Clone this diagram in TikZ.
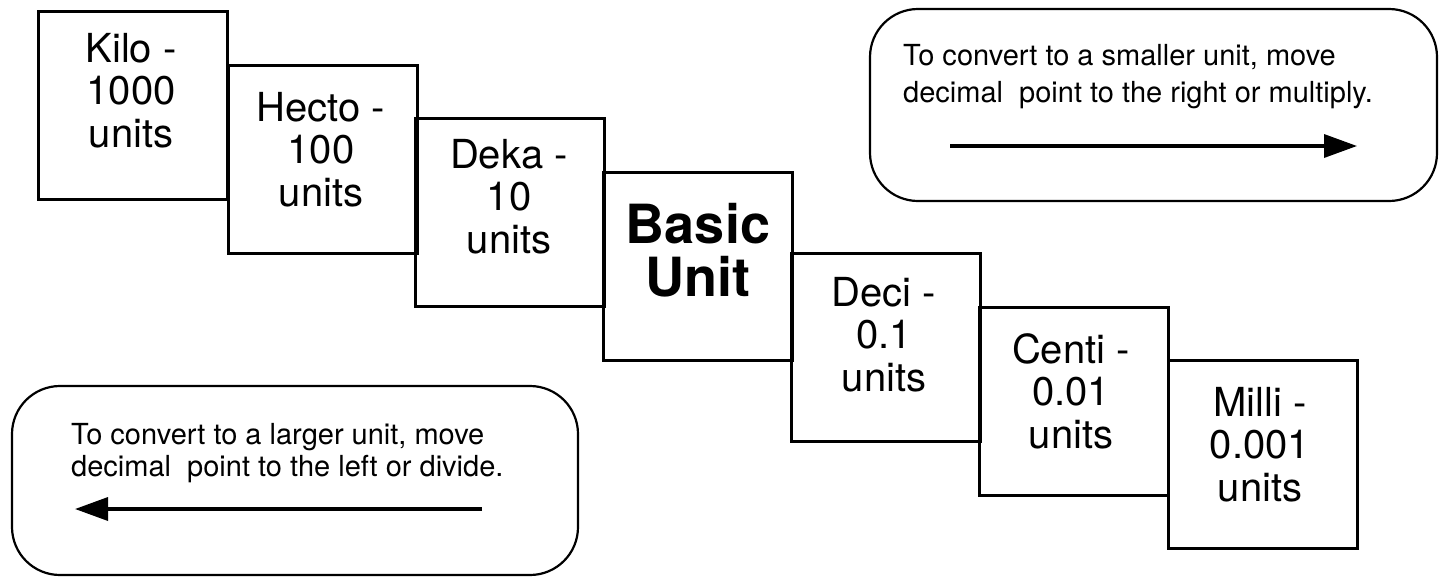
\documentclass[tikz,border=0pt]{standalone}
\usepackage{fontspec}
\setmainfont{TeX Gyre Heros}
\usetikzlibrary{arrows.meta}
\tikzset{
  unitbox/.style={draw, line width=3pt, minimum width=189pt, minimum height=188pt, inner sep=0pt, outer sep=0pt},
  unittext/.style={anchor=north, inner sep=0pt, align=center, font=\fontsize{40}{42.5}\selectfont},
  basictext/.style={anchor=north, inner sep=0pt, align=center, font=\bfseries\fontsize{54}{53}\selectfont},
  notebox/.style={draw, line width=2.2pt, rounded corners=48pt, inner sep=0pt, outer sep=0pt},
  notetext/.style={anchor=north west, inner sep=0pt, align=left},
  convarrow/.style={line width=3.5pt, -{Triangle[length=33pt, width=23pt]}}
}
\begin{document}
\begin{tikzpicture}[x=1pt, y=-1pt]
\useasboundingbox (0,0) rectangle (1447,576);
% staircase of unit boxes
\node[unitbox] (kilo)  at (133,105.5) {};
\node[unitbox] (hecto) at (322.5,159.5) {};
\node[unitbox] (deka)  at (510,212.5) {};
\node[unitbox] (basic) at (698,266) {};
\node[unitbox] (deci)  at (886,347) {};
\node[unitbox] (centi) at (1074,401.5) {};
\node[unitbox] (milli) at (1262.5,454.5) {};
% texts
\node[unittext] (kilot)  at (131,33)  {Kilo -\\1000\\units};
\node[unittext] (hectot) at (321,92)  {Hecto -\\100\\units};
\node[unittext] (dekat)  at (509,139) {Deka -\\10\\units};
\node[basictext] (basict) at (698,203) {Basic\\Unit};
\node[unittext] (decit)  at (884,277) {Deci -\\0.1\\units};
\node[unittext] (centit) at (1071,333) {Centi -\\0.01\\units};
\node[unittext] (millit) at (1260,387) {Milli -\\0.001\\units};
% note boxes
\node[notebox, minimum width=567pt, minimum height=192pt] (smaller) at (1153.5,105) {};
\node[notebox, minimum width=566pt, minimum height=189pt] (larger) at (295,480.5) {};
\node[notetext, font=\fontsize{29}{37}\selectfont] (smallert) at (903,44)
  {To convert to a smaller unit, move\\decimal\ \ point to the right or multiply.};
\node[notetext, font=\fontsize{29}{32}\selectfont] (largert) at (71,423)
  {To convert to a larger unit, move\\decimal\ \ point to the left or divide.};
% arrows
\coordinate (rs) at (950,146);
\coordinate (re) at (1357,146);
\coordinate (ls) at (482,509);
\coordinate (le) at (75,509);
\draw[convarrow] (rs) -- (re);
\draw[convarrow] (ls) -- (le);
\end{tikzpicture}
\end{document}
